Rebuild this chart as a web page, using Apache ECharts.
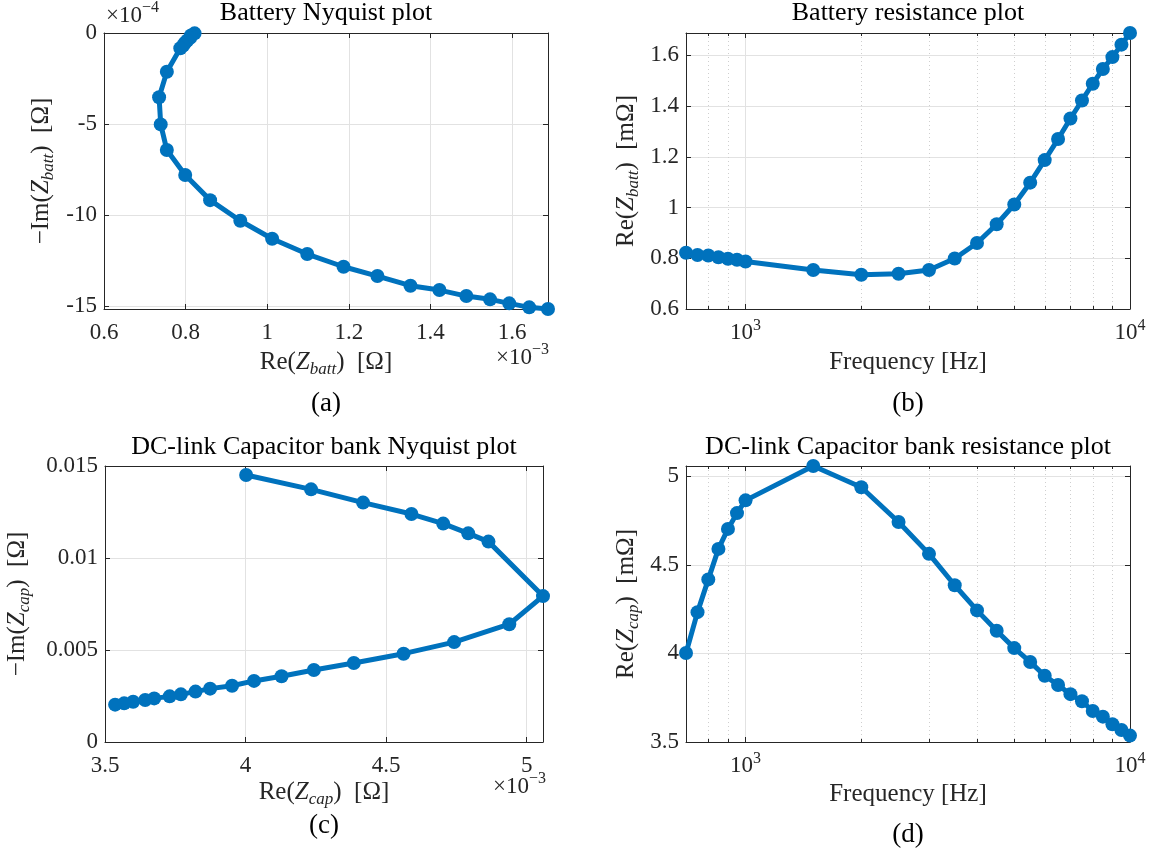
<!DOCTYPE html>
<html>
<head>
<meta charset="utf-8">
<script src="https://cdn.jsdelivr.net/npm/echarts@6/dist/echarts.min.js"></script>
<style>
  html, body { margin: 0; padding: 0; background: #ffffff; }
  #chart { width: 1152px; height: 854px; }
</style>
</head>
<body>
<div id="chart"></div>
<script>
// Measurement frequencies [Hz]
const freqHz = [700, 750, 800, 850, 900, 950, 1000, 1500, 2000, 2500, 3000, 3500, 4000,
  4500, 5000, 5500, 6000, 6500, 7000, 7500, 8000, 8500, 9000, 9500, 10000];

// Battery impedance: real part [mΩ] and negative imaginary part [×1e-4 Ω]
const battRe = [0.822, 0.813, 0.811, 0.804, 0.798, 0.794, 0.787, 0.754, 0.735, 0.739, 0.754,
  0.799, 0.860, 0.934, 1.012, 1.098, 1.187, 1.270, 1.351, 1.422, 1.488, 1.546, 1.593, 1.642, 1.688];
const battNegIm = [-0.02, -0.14, -0.27, -0.41, -0.55, -0.69, -0.84, -2.13, -3.53, -5.02, -6.43,
  -7.80, -9.18, -10.31, -11.30, -12.14, -12.84, -13.35, -13.88, -14.12, -14.45, -14.63, -14.85, -15.07, -15.16];

// DC-link capacitor bank impedance: real part [mΩ] and negative imaginary part [Ω]
const capRe = [4.002, 4.233, 4.418, 4.590, 4.703, 4.792, 4.864, 5.058, 4.938, 4.742, 4.562,
  4.385, 4.243, 4.128, 4.030, 3.952, 3.874, 3.822, 3.770, 3.730, 3.675, 3.643, 3.600, 3.568, 3.536];
const capNegIm = [0.01451, 0.01373, 0.01301, 0.01239, 0.01187, 0.01134, 0.01089, 0.00793, 0.00640,
  0.00543, 0.00480, 0.00429, 0.00391, 0.00357, 0.00332, 0.00306, 0.00290, 0.00274, 0.00259,
  0.00248, 0.00237, 0.00228, 0.00219, 0.00210, 0.00203];

// Minor gridlines of the logarithmic frequency axes [Hz]
const minorFreqHz = [800, 900, 2000, 3000, 4000, 5000, 6000, 7000, 8000, 9000];

const FONT = 'Liberation Serif';
const INK = '#262626';
const BLUE = '#0072BD';
const GRID_COLOR = '#e2e2e2';
const MINOR_COLOR = '#cfcfcf';
const TICK_SIZE = 23;

const zip = (a, b) => a.map((v, i) => [v, b[i]]);
const fmtNum = v => String(Number(v.toFixed(6)));
const onStep = (v, step) => Math.abs(v / step - Math.round(v / step)) < 1e-6;

const grids = [
  { left: 104, top: 33, width: 444, height: 276 },
  { left: 686, top: 33, width: 444, height: 276 },
  { left: 105, top: 466, width: 438, height: 276 },
  { left: 686, top: 466, width: 444, height: 276 }
];

const lineStyleAxis = { color: INK, width: 1 };

// A labelled axis plus an unlabelled mirror on the opposite side (closed box, inward ticks)
function valueAxes(dim, gridIndex, min, max, splitNumber, step, margin) {
  const main = {
    type: 'value', gridIndex, min, max, splitNumber,
    position: dim === 'x' ? 'bottom' : 'left',
    axisLine: { show: true, onZero: false, lineStyle: lineStyleAxis },
    axisTick: { show: true, inside: true, length: 5, lineStyle: lineStyleAxis },
    axisLabel: {
      fontFamily: FONT, fontSize: TICK_SIZE, color: INK, lineHeight: 24, margin,
      formatter: v => onStep(v, step) ? fmtNum(v) : ''
    },
    splitLine: { show: true, lineStyle: { color: GRID_COLOR, width: 1 } }
  };
  const mirror = {
    type: 'value', gridIndex, min, max, splitNumber,
    position: dim === 'x' ? 'top' : 'right',
    axisLine: { show: true, onZero: false, lineStyle: lineStyleAxis },
    axisTick: { show: true, inside: true, length: 5, lineStyle: lineStyleAxis },
    axisLabel: { show: false },
    splitLine: { show: false }
  };
  return [main, mirror];
}

function logAxes(gridIndex, margin) {
  const base = {
    type: 'log', logBase: 10, gridIndex, min: 700, max: 10000,
    axisLine: { show: true, onZero: false, lineStyle: lineStyleAxis },
    axisTick: { show: true, inside: true, length: 5, lineStyle: lineStyleAxis }
  };
  const main = Object.assign({}, base, {
    position: 'bottom',
    axisLabel: {
      fontFamily: FONT, fontSize: TICK_SIZE, color: INK, lineHeight: 30, margin,
      formatter: v => {
        const e = Math.log10(v);
        return Math.abs(e - Math.round(e)) < 1e-6 ? '10{sup|' + Math.round(e) + '}' : '';
      },
      rich: { sup: { fontFamily: FONT, fontSize: 16, lineHeight: 16, verticalAlign: 'top', color: INK } }
    },
    splitLine: { show: true, lineStyle: { color: GRID_COLOR, width: 1 } }
  });
  const mirror = Object.assign({}, base, {
    position: 'top', axisLabel: { show: false }, splitLine: { show: false }
  });
  return [main, mirror];
}

const ax = valueAxes('x', 0, 0.6, Math.max(...battRe), 5, 0.2, 12);
const ay = valueAxes('y', 0, Math.min(...battNegIm), 0, 3, 5, 7);
const bx = logAxes(1, 9);
const by = valueAxes('y', 1, 0.6, Math.max(...battRe), 5, 0.2, 7);
const cx = valueAxes('x', 2, 3.5, Math.max(...capRe), 3, 0.5, 12);
const cy = valueAxes('y', 2, 0, 0.015, 3, 0.005, 7);
const dx = logAxes(3, 9);
const dy = valueAxes('y', 3, 3.5, Math.max(...capRe), 3, 0.5, 7);

const xAxes = [...ax, ...bx, ...cx, ...dx];
const yAxes = [...ay, ...by, ...cy, ...dy];

function measuredLine(xi, yi, data) {
  return {
    type: 'line', xAxisIndex: xi, yAxisIndex: yi, data,
    clip: false, z: 5,
    symbol: 'circle', symbolSize: 14, showAllSymbol: true,
    lineStyle: { color: BLUE, width: 5 },
    itemStyle: { color: BLUE, borderWidth: 0 },
    emphasis: { disabled: true },
    animation: false
  };
}

// Dotted minor grid and small inward ticks at 2..9 × 10^n on the log axes
function minorLogGrid(xi, yi, yRef) {
  return {
    type: 'custom', xAxisIndex: xi, yAxisIndex: yi, silent: true, z: 1,
    data: minorFreqHz.map(f => [f, yRef]),
    renderItem: (params, api) => {
      const cs = params.coordSys;
      const x = Math.round(api.coord([api.value(0), api.value(1)])[0]) + 0.5;
      const y0 = cs.y, y1 = cs.y + cs.height;
      return {
        type: 'group',
        children: [
          { type: 'line', shape: { x1: x, y1: y0, x2: x, y2: y1 },
            style: { stroke: MINOR_COLOR, lineWidth: 1, lineDash: [1, 3] } },
          { type: 'line', shape: { x1: x, y1: y1, x2: x, y2: y1 - 3 },
            style: { stroke: INK, lineWidth: 1 } },
          { type: 'line', shape: { x1: x, y1: y0, x2: x, y2: y0 + 3 },
            style: { stroke: INK, lineWidth: 1 } }
        ]
      };
    },
    animation: false
  };
}

const richStyles = size => ({
  n: { fontFamily: FONT, fontSize: size, lineHeight: 32, fill: INK },
  i: { fontFamily: FONT, fontSize: size, fontStyle: 'italic', lineHeight: 32, fill: INK },
  s: { fontFamily: FONT, fontSize: 17, fontStyle: 'italic', lineHeight: 17, verticalAlign: 'bottom', fill: INK },
  p: { fontFamily: FONT, fontSize: 16, lineHeight: 16, verticalAlign: 'top', fill: INK }
});

function label(x, y, text, opts) {
  opts = opts || {};
  const size = opts.size || 25;
  return {
    type: 'text', x, y, rotation: opts.rot || 0, silent: true, z: 10,
    style: {
      text, rich: richStyles(size),
      fontFamily: FONT, fontSize: size, fill: opts.fill || INK,
      align: opts.align || 'center', verticalAlign: 'middle'
    }
  };
}

const UP = Math.PI / 2;
const graphics = [
  // titles
  label(326, 13, 'Battery Nyquist plot', { size: 26, fill: '#000' }),
  label(908, 13, 'Battery resistance plot', { size: 26, fill: '#000' }),
  label(324, 447, 'DC-link Capacitor bank Nyquist plot', { size: 26, fill: '#000' }),
  label(908, 447, 'DC-link Capacitor bank resistance plot', { size: 26, fill: '#000' }),
  // x-axis labels
  label(326, 362, '{n|Re(}{i|Z}{s|batt}{n|)  [Ω]}'),
  label(908, 362, 'Frequency [Hz]'),
  label(324, 792, '{n|Re(}{i|Z}{s|cap}{n|)  [Ω]}'),
  label(908, 794, 'Frequency [Hz]'),
  // y-axis labels
  label(41, 171, '{n|−Im(}{i|Z}{s|batt}{n|)  [Ω]}', { rot: UP }),
  label(626, 171, '{n|Re(}{i|Z}{s|batt}{n|)  [mΩ]}', { rot: UP }),
  label(17, 604, '{n|−Im(}{i|Z}{s|cap}{n|)  [Ω]}', { rot: UP }),
  label(626, 604, '{n|Re(}{i|Z}{s|cap}{n|)  [mΩ]}', { rot: UP }),
  // axis exponents
  label(106, 16, '{n|×10}{p|−4}', { size: 23, align: 'left' }),
  label(549, 358, '{n|×10}{p|−3}', { size: 23, align: 'right' }),
  label(546, 787, '{n|×10}{p|−3}', { size: 23, align: 'right' }),
  // sub-figure captions
  label(326, 404, '(a)', { size: 27, fill: '#000' }),
  label(908, 404, '(b)', { size: 27, fill: '#000' }),
  label(324, 826, '(c)', { size: 27, fill: '#000' }),
  label(908, 835, '(d)', { size: 27, fill: '#000' })
];

const option = {
  backgroundColor: '#ffffff',
  animation: false,
  grid: grids,
  xAxis: xAxes,
  yAxis: yAxes,
  series: [
    minorLogGrid(2, 2, 0.6),
    minorLogGrid(6, 6, 3.5),
    measuredLine(0, 0, zip(battRe, battNegIm)),
    measuredLine(2, 2, zip(freqHz, battRe)),
    measuredLine(4, 4, zip(capRe, capNegIm)),
    measuredLine(6, 6, zip(freqHz, capRe))
  ],
  graphic: graphics
};

const chart = echarts.init(document.getElementById('chart'), null, { renderer: 'canvas' });
chart.setOption(option);
</script>
</body>
</html>
